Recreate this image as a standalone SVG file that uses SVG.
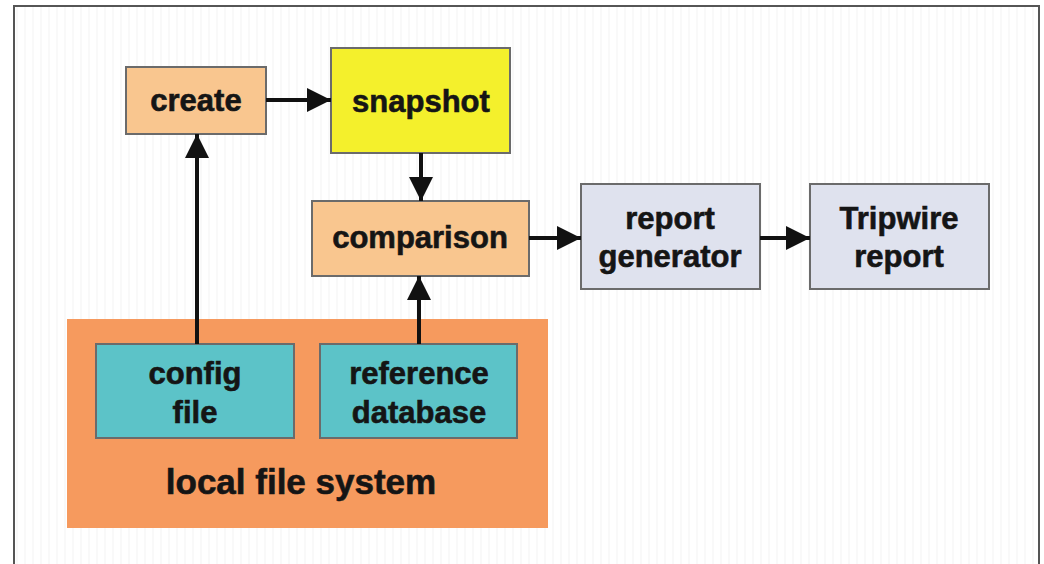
<svg xmlns="http://www.w3.org/2000/svg" width="1044" height="564" viewBox="0 0 1044 564">
  <defs>
    <marker id="ah" markerUnits="userSpaceOnUse" markerWidth="24" markerHeight="24" refX="24" refY="12" orient="auto">
      <path d="M0,0 L24,12 L0,24 z" fill="#111"/>
    </marker>
    <pattern id="stripes" width="8" height="8" patternUnits="userSpaceOnUse">
      <rect width="8" height="8" fill="#ffffff"/>
      <rect width="2" height="8" fill="#f9f9f9"/>
    </pattern>
  </defs>
  <style>
    .box { stroke: #6b6b6b; stroke-width: 2; }
    .peach { fill: #f9c68f; }
    .yellow { fill: #f4f02c; }
    .lav { fill: #dfe2ee; }
    .teal { fill: #5cc3c8; }
    .orange { fill: #f69a5e; }
    text { font-family: "Liberation Sans", Arial, sans-serif; font-weight: bold; fill: #151515; stroke: #151515; stroke-width: 0.6; text-anchor: middle; }
    .t { font-size: 31px; }
    .big { font-size: 35px; }
    .conn line { stroke: #111; stroke-width: 4; marker-end: url(#ah); }
  </style>
  <rect x="0" y="0" width="1044" height="564" fill="#ffffff"/>
  <rect x="14" y="6" width="1025" height="570" fill="url(#stripes)" stroke="#555" stroke-width="2"/>

  <g id="local-file-system">
    <rect x="67" y="319" width="481" height="209" class="orange"/>
    <text class="big" x="301" y="494">local file system</text>
  </g>
  <g id="config-file">
    <rect x="96" y="344" width="198" height="94" class="box teal"/>
    <text class="t" x="195" y="384">config</text>
    <text class="t" x="195" y="423">file</text>
  </g>
  <g id="reference-database">
    <rect x="320" y="344" width="197" height="94" class="box teal"/>
    <text class="t" x="419" y="384">reference</text>
    <text class="t" x="419" y="423">database</text>
  </g>
  <g id="create">
    <rect x="126" y="67" width="140" height="67" class="box peach"/>
    <text class="t" x="196" y="111">create</text>
  </g>
  <g id="snapshot">
    <rect x="331" y="48" width="179" height="105" class="box yellow"/>
    <text class="t" x="421" y="112">snapshot</text>
  </g>
  <g id="comparison">
    <rect x="312" y="201" width="217" height="75" class="box peach"/>
    <text class="t" x="420" y="248">comparison</text>
  </g>
  <g id="report-generator">
    <rect x="581" y="184" width="179" height="105" class="box lav"/>
    <text class="t" x="670" y="229">report</text>
    <text class="t" x="670" y="267">generator</text>
  </g>
  <g id="tripwire-report">
    <rect x="810" y="184" width="179" height="105" class="box lav"/>
    <text class="t" x="899" y="229">Tripwire</text>
    <text class="t" x="899" y="267">report</text>
  </g>

  <g id="connectors" class="conn">
    <line x1="266" y1="100" x2="331" y2="100"/>
    <line x1="197" y1="344" x2="197" y2="134"/>
    <line x1="421" y1="153" x2="421" y2="201"/>
    <line x1="419" y1="344" x2="419" y2="276"/>
    <line x1="529" y1="238" x2="581" y2="238"/>
    <line x1="760" y1="238" x2="810" y2="238"/>
  </g>
</svg>
